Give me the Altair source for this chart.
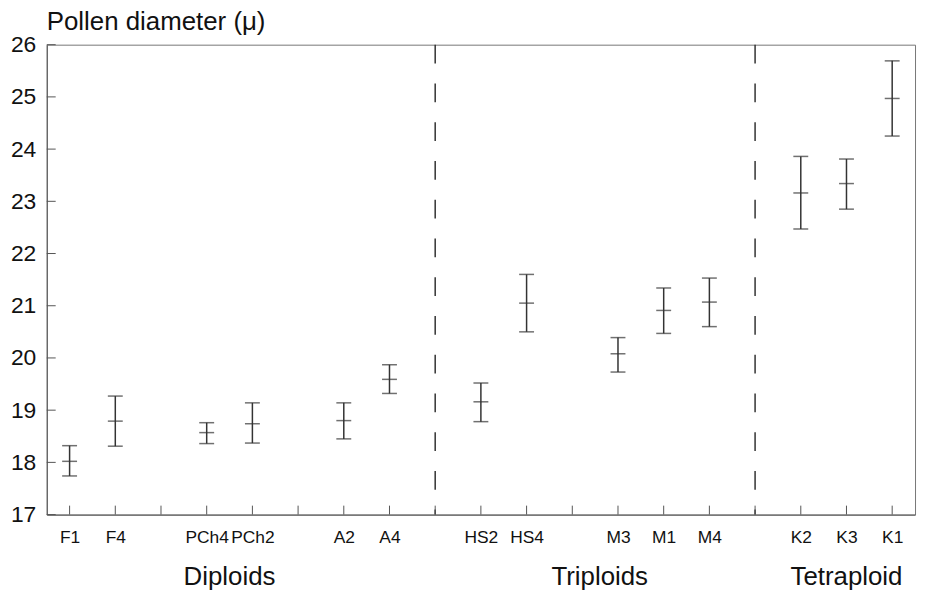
import altair as alt
import pandas as pd

# ---- data ----
samples = ["F1", "F4", "PCh4", "PCh2", "A2", "A4",
           "HS2", "HS4", "M3", "M1", "M4",
           "K2", "K3", "K1"]
means = [18.02, 18.79, 18.57, 18.74, 18.80, 19.59,
         19.16, 21.05, 20.08, 20.91, 21.07,
         23.16, 23.34, 24.97]
lower = [17.74, 18.31, 18.36, 18.37, 18.45, 19.32,
         18.78, 20.50, 19.73, 20.47, 20.60,
         22.47, 22.85, 24.25]
upper = [18.32, 19.27, 18.76, 19.14, 19.14, 19.87,
         19.52, 21.60, 20.39, 21.34, 21.53,
         23.86, 23.81, 25.69]
groups = ["Diploids"] * 6 + ["Triploids"] * 5 + ["Tetraploid"] * 3

# slot layout along the x axis ("" = empty slot, "|" = group divider)
slot_layout = ["F1", "F4", "", "PCh4", "PCh2", "", "A2", "A4", "|",
               "HS2", "HS4", "", "M3", "M1", "M4", "|",
               "K2", "K3", "K1"]
y_ticks = [17, 18, 19, 20, 21, 22, 23, 24, 25, 26]

# ---- derived tables ----
slot_of = {n: i for i, n in enumerate(slot_layout) if n not in ("", "|")}
df = pd.DataFrame({"sample": samples, "mean": means, "lo": lower, "hi": upper,
                   "group": groups})
df["pos"] = df["sample"].map(slot_of)

dividers = pd.DataFrame({"pos": [i for i, n in enumerate(slot_layout) if n == "|"]})
xticks = pd.DataFrame({"pos": list(range(len(slot_layout)))})
yticks = pd.DataFrame({"v": y_ticks})
grp = df.groupby("group", sort=False)["pos"].mean().reset_index()

W, H = 874, 473
INK = "#333333"
FONT = "Liberation Sans"

label_js = "[" + ",".join("'" + ("" if n == "|" else n) + "'" for n in slot_layout) + "]"

xscale = alt.Scale(domain=[-0.5, len(slot_layout) - 0.5], nice=False, zero=False)
yscale = alt.Scale(domain=[17, 26], nice=False, zero=False)

xaxis = alt.Axis(values=list(range(len(slot_layout))), labelExpr=label_js + "[datum.value]",
                 title=None, grid=False, tickSize=0, labelPadding=14,
                 labelFontSize=17.5, labelFont=FONT, labelColor="#111",
                 domainColor="#555", labelAngle=0)
yaxis = alt.Axis(values=y_ticks, title=None, grid=False, tickSize=0, labelPadding=11,
                 labelFontSize=23, labelFont=FONT, labelColor="#111", domainColor="#555")

base = alt.Chart(df)

bars = base.mark_rule(color=INK, strokeWidth=1.5).encode(
    x=alt.X("pos:Q", scale=xscale, axis=xaxis),
    y=alt.Y("lo:Q", scale=yscale, axis=yaxis),
    y2="hi:Q",
)
caps_lo = base.mark_tick(color=INK, orient="horizontal", size=15, thickness=1.5).encode(
    x="pos:Q", y="lo:Q")
caps_hi = base.mark_tick(color=INK, orient="horizontal", size=15, thickness=1.5).encode(
    x="pos:Q", y="hi:Q")
centers = base.mark_tick(color=INK, orient="horizontal", size=15, thickness=1.5).encode(
    x="pos:Q", y="mean:Q")

div = alt.Chart(dividers).mark_rule(color=INK, strokeWidth=1.5, strokeDash=[19, 20]).encode(
    x="pos:Q")

xt = alt.Chart(xticks).mark_rule(color="#555", strokeWidth=1).encode(
    x="pos:Q", y=alt.value(H), y2=alt.value(H - 9))
yt = alt.Chart(yticks).mark_rule(color="#555", strokeWidth=1).encode(
    y="v:Q", x=alt.value(0), x2=alt.value(9))

glabels = alt.Chart(grp).mark_text(fontSize=26, font=FONT, color="#111",
                                   baseline="alphabetic", align="center").encode(
    x="pos:Q", y=alt.value(H + 71), text="group:N")

chart = alt.layer(bars, caps_lo, caps_hi, centers, div, xt, yt, glabels).properties(
    width=W, height=H,
    title=alt.TitleParams("Pollen diameter (μ)", anchor="start", frame="group",
                          fontSize=26, fontWeight="normal", font=FONT, color="#111",
                          offset=-1),
    autosize=alt.AutoSizeParams(type="none"),
    padding={"left": 39, "top": 35, "right": 5, "bottom": 76},
).configure_view(stroke="#777", strokeWidth=1)

chart.save("out.html", embed_options={"renderer": "svg", "actions": False})
